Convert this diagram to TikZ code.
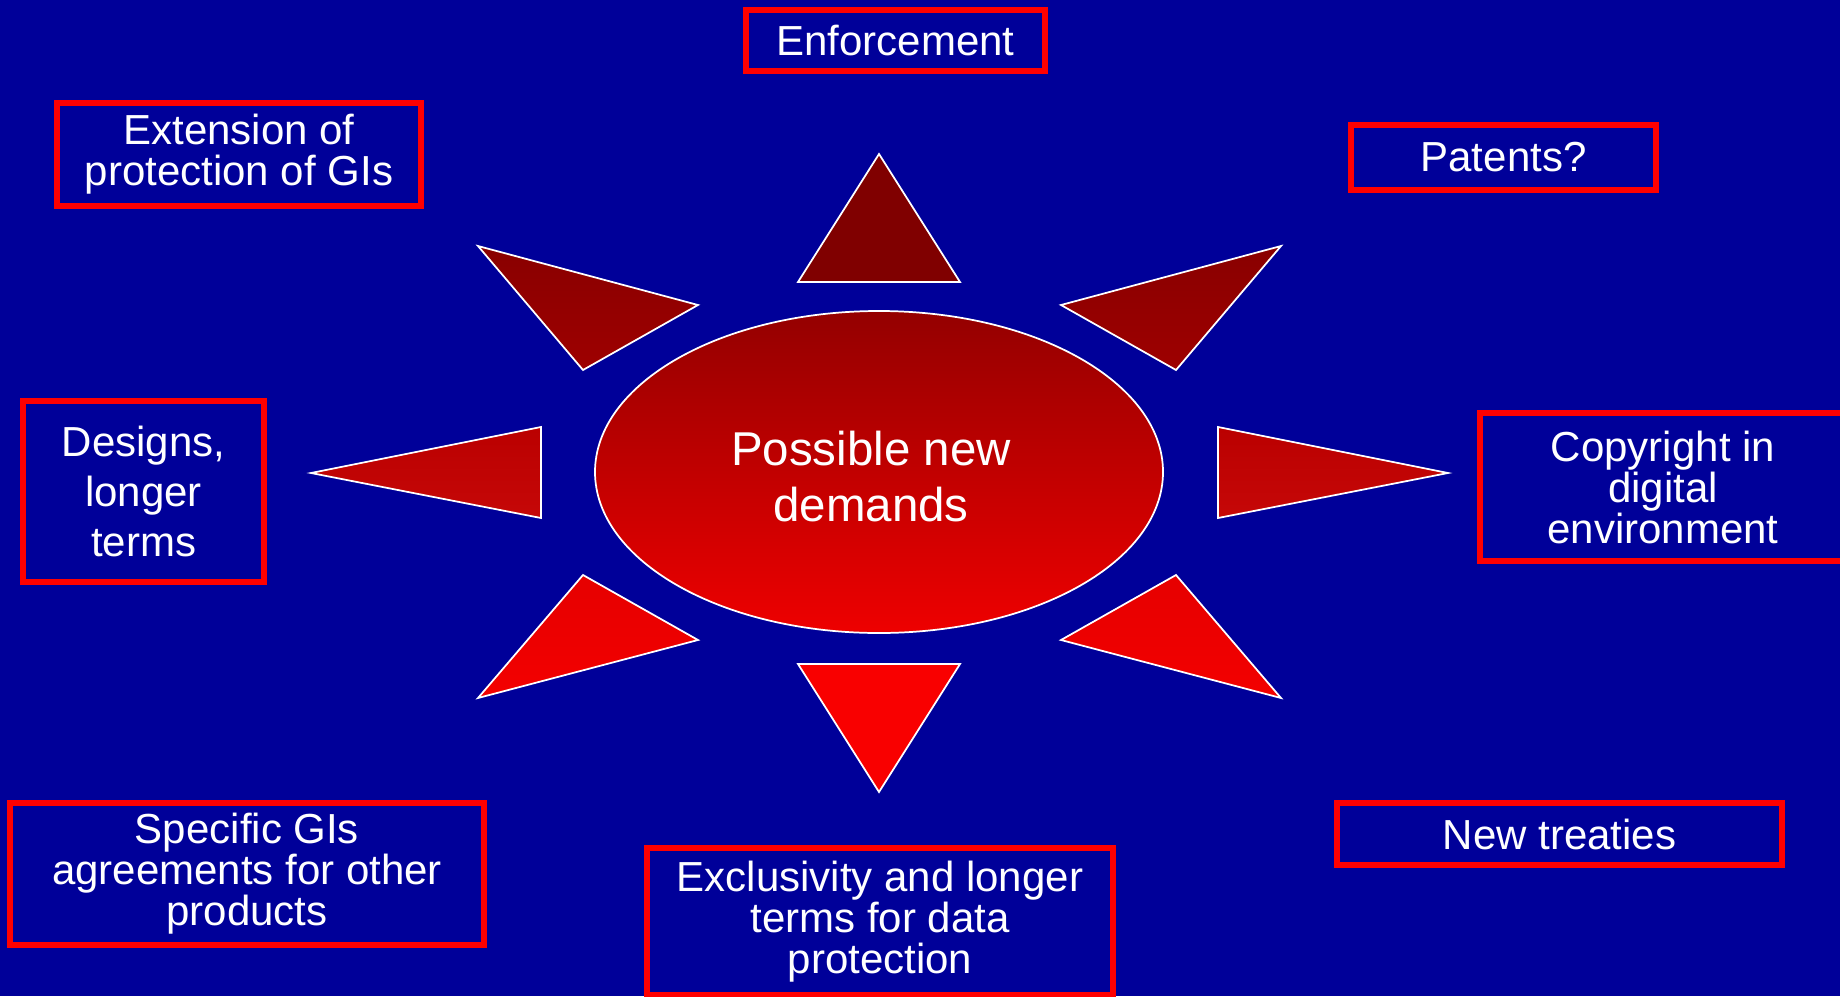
\documentclass[tikz,border=0pt]{standalone}
\usepackage{fontspec}
\setmainfont{Liberation Sans}
\usetikzlibrary{shapes.geometric}
\definecolor{bg}{RGB}{0,0,153}
\definecolor{boxred}{RGB}{255,0,0}
\definecolor{rayA}{RGB}{128,0,0}
\definecolor{rayBt}{RGB}{137,0,0}
\definecolor{rayBb}{RGB}{158,0,0}
\definecolor{rayC}{RGB}{196,0,0}
\definecolor{rayDt}{RGB}{230,0,0}
\definecolor{rayDb}{RGB}{243,0,0}
\definecolor{rayE}{RGB}{249,0,0}
\definecolor{coreTop}{RGB}{148,0,0}
\definecolor{coreBot}{RGB}{238,0,0}
\begin{document}
\begin{tikzpicture}[x=0.75pt,y=-0.75pt,
  demand/.style={draw=boxred, line width=4.5pt, text=white, align=center, inner sep=0pt,
    font=\fontsize{31.5}{30.75}\selectfont},
  ray/.style={draw=white, line width=1.3pt}]
\fill[bg] (0,0) rectangle (1840,996);
\clip (0,0) rectangle (1840,996);
% rays of the sun
\filldraw[ray, fill=rayA] (879,154) -- (798,282) -- (960,282) -- cycle;
\shadedraw[ray, top color=rayBt, bottom color=rayBb] (478,246) -- (698,305) -- (583,370) -- cycle;
\shadedraw[ray, top color=rayBt, bottom color=rayBb] (1281,246) -- (1061,305) -- (1176,370) -- cycle;
\shadedraw[ray, top color=rayC!95!black, bottom color=rayC!97!white] (311,473) -- (541,427) -- (541,518) -- cycle;
\shadedraw[ray, top color=rayC!95!black, bottom color=rayC!97!white] (1448,473) -- (1218,427) -- (1218,518) -- cycle;
\shadedraw[ray, top color=rayDt, bottom color=rayDb] (478,698) -- (698,640) -- (583,575) -- cycle;
\shadedraw[ray, top color=rayDt, bottom color=rayDb] (1281,698) -- (1061,640) -- (1176,575) -- cycle;
\filldraw[ray, fill=rayE] (879,792) -- (798,664) -- (960,664) -- cycle;
% centre
\node[ellipse, draw=white, line width=1.3pt, top color=coreTop, bottom color=coreBot,
      minimum width=426pt, minimum height=241.5pt, inner sep=0pt] (core) at (879,472) {};
\node[text=white, align=center, font=\fontsize{35.6}{42}\selectfont] (coretext) at (871,477) {Possible new\\demands};
% demand boxes
\node[demand, minimum width=224.25pt, minimum height=45.75pt] (enf) at (895.5,40.5) {Enforcement};
\node[demand, minimum width=273pt, minimum height=77.25pt] (ext) at (239,154.5) {Extension of\\protection of GIs};
\node[demand, minimum width=228.75pt, minimum height=48.75pt] (pat) at (1503.5,157.5) {Patents?};
\node[demand, minimum width=180.75pt, minimum height=135.75pt, font=\fontsize{31.5}{37.5}\selectfont] (des) at (143.5,491.5) {Designs,\\longer\\terms};
\node[demand, minimum width=274.5pt, minimum height=111pt] (copy) at (1663,487) {Copyright in\\digital\\environment};
\node[demand, minimum width=355.5pt, minimum height=106.5pt] (spec) at (247,874) {Specific GIs\\agreements for other\\products};
\node[demand, minimum width=349.5pt, minimum height=110.25pt] (excl) at (880,921.5) {Exclusivity and longer\\terms for data\\protection};
\node[demand, minimum width=333.75pt, minimum height=46.5pt] (treat) at (1559.5,834) {New treaties};
\end{tikzpicture}
\end{document}
